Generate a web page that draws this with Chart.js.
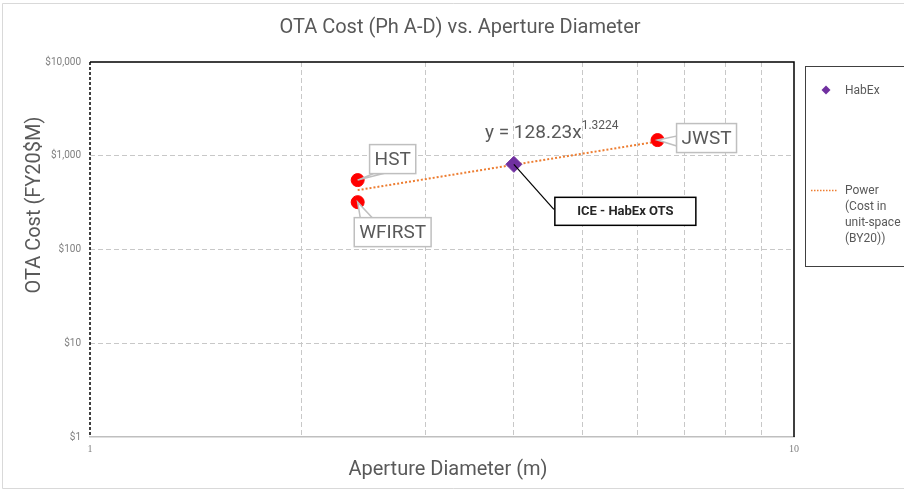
<!DOCTYPE html>
<html>
<head>
<meta charset="utf-8">
<script src="https://cdn.jsdelivr.net/npm/chart.js@4/dist/chart.umd.min.js"></script>
<style>
    html, body { margin: 0; padding: 0; background: #fff; }
</style>
</head>
<body>
<canvas id="costChart" width="904" height="491"></canvas>
<script>
// chart data
var missions = ['HST', 'WFIRST', 'JWST'];
var missionAperture = [2.4, 2.4, 6.4];
var missionCost = [550, 320, 1470];

var habexAperture = [4.0];
var habexCost = [810];
var habexLabel = ['ICE - HabEx OTS'];

var trendAperture = [2.4, 6.4];
var trendCost = [430, 1420];
var trendEquation = 'y = 128.23x';
var trendExponent = '1.3224';

var xTickValues = [1, 2, 3, 4, 5, 6, 7, 8, 9, 10];
var xTickLabels = ['1', '', '', '', '', '', '', '', '', '10'];
var yTickValues = [1, 10, 100, 1000, 10000];
var yTickLabels = ['$1', '$10', '$100', '$1,000', '$10,000'];

var titleText = 'OTA Cost (Ph A-D) vs. Aperture Diameter';
var xTitle = 'Aperture Diameter (m)';
var yTitle = 'OTA Cost (FY20$M)';
var legendHabex = 'HabEx';
var legendPower = ['Power', '(Cost in', 'unit-space', '(BY20))'];

var FONT = 'Roboto, "Noto Sans", sans-serif';
var TEXT = '#595959';

function toPoints(xs, ys) {
    return xs.map(function (x, i) { return { x: x, y: ys[i] }; });
}

// draws a grey callout box with a small wedge pointing to the marker
function callout(c, px, py, text, dx, dy) {
    c.font = '19px ' + FONT;
    var w = c.measureText(text).width + 10;
    var h = 29;
    var cx = px + dx, cy = py + dy;
    var bx = cx - w / 2, by = cy - h / 2;
    var b1, b2;
    if (py > by + h) {            // point below the box
        b1 = [bx + 4, by + h]; b2 = [bx + 14, by + h];
    } else if (py < by) {         // point above the box
        b1 = [bx + 6, by]; b2 = [bx + 18, by];
    } else {                      // point left of box
        b1 = [bx, cy - 2]; b2 = [bx, cy + 8];
    }
    c.fillStyle = '#fff';
    c.strokeStyle = '#bfbfbf';
    c.lineWidth = 1.5;
    c.beginPath();
    c.moveTo(px, py);
    c.lineTo(b1[0], b1[1]);
    c.lineTo(b2[0], b2[1]);
    c.closePath();
    c.fill();
    c.stroke();
    c.fillRect(bx, by, w, h);
    c.strokeRect(bx, by, w, h);
    c.fillStyle = TEXT;
    c.textAlign = 'center';
    c.textBaseline = 'middle';
    c.fillText(text, cx, cy + 1);
}

var overlay = {
    id: 'overlay',
    beforeDraw: function (chart) {
        var c = chart.ctx;
        c.save();
        c.fillStyle = '#fff';
        c.fillRect(0, 0, chart.width, chart.height);
        // outer chart frame
        c.strokeStyle = '#d9d9d9';
        c.lineWidth = 1;
        c.beginPath();
        c.moveTo(chart.width, 3.5);
        c.lineTo(2.5, 3.5);
        c.lineTo(2.5, 488.5);
        c.lineTo(chart.width, 488.5);
        c.stroke();
        // title + axis titles
        c.fillStyle = TEXT;
        c.textAlign = 'center';
        c.textBaseline = 'middle';
        c.font = '20px ' + FONT;
        c.fillText(titleText, 460, 28);
        c.fillText(xTitle, 448, 470);
        c.translate(35, 205);
        c.rotate(-Math.PI / 2);
        c.fillText(yTitle, 0, 0);
        c.restore();
    },
    beforeDatasetsDraw: function (chart) {
        var c = chart.ctx, a = chart.chartArea;
        c.save();
        c.strokeStyle = '#000';
        c.lineWidth = 1.5;
        c.beginPath();
        c.moveTo(a.left, a.top);
        c.lineTo(a.right, a.top);
        c.lineTo(a.right, a.bottom);
        c.stroke();
        c.setLineDash([3, 2]);
        c.beginPath();
        c.moveTo(a.left, a.top);
        c.lineTo(a.left, a.bottom);
        c.stroke();
        c.restore();
    },
    afterDatasetsDraw: function (chart) {
        var c = chart.ctx;
        c.save();
        var red = chart.getDatasetMeta(1).data;
        callout(c, red[0].x, red[0].y, missions[0], 35, -21);
        callout(c, red[1].x, red[1].y, missions[1], 35, 30);
        callout(c, red[2].x, red[2].y, missions[2], 49, -2);
        // HabEx label with black leader
        var hx = chart.getDatasetMeta(0).data[0];
        c.strokeStyle = '#000';
        c.lineWidth = 1.2;
        c.beginPath();
        c.moveTo(hx.x, hx.y);
        c.lineTo(hx.x + 40, hx.y + 45);
        c.stroke();
        c.fillStyle = '#fff';
        c.fillRect(hx.x + 41, hx.y + 33, 141, 28);
        c.lineWidth = 1.5;
        c.strokeRect(hx.x + 41, hx.y + 33, 141, 28);
        c.fillStyle = '#262626';
        c.font = 'bold 13px ' + FONT;
        c.textAlign = 'center';
        c.textBaseline = 'middle';
        c.fillText(habexLabel[0], hx.x + 111.5, hx.y + 47.5);
        // trendline equation
        c.fillStyle = TEXT;
        c.textAlign = 'left';
        c.textBaseline = 'alphabetic';
        c.font = '19px ' + FONT;
        c.fillText(trendEquation, 485, 138);
        var ew = c.measureText(trendEquation).width;
        c.font = '12px ' + FONT;
        c.fillText(trendExponent, 485 + ew, 129);
        // legend
        c.strokeStyle = '#404040';
        c.lineWidth = 1;
        c.strokeRect(805.5, 66.5, 100, 200);
        c.fillStyle = '#7030a0';
        c.beginPath();
        c.moveTo(826, 85.5); c.lineTo(830.5, 90); c.lineTo(826, 94.5); c.lineTo(821.5, 90);
        c.closePath();
        c.fill();
        c.fillStyle = TEXT;
        c.font = '12px ' + FONT;
        c.textBaseline = 'middle';
        c.fillText(legendHabex, 845, 91);
        c.strokeStyle = '#ed7d31';
        c.lineWidth = 1.5;
        c.setLineDash([1.5, 1.5]);
        c.beginPath();
        c.moveTo(811, 190.5);
        c.lineTo(837, 190.5);
        c.stroke();
        c.setLineDash([]);
        legendPower.forEach(function (t, i) {
            c.fillText(t, 845, 191 + i * 16);
        });
        c.restore();
    }
};

var ctx = document.getElementById('costChart').getContext('2d');

var costChart = new Chart(ctx, {
    type: 'scatter',
    data: {
        datasets: [{
            label: 'HabEx',
            data: toPoints(habexAperture, habexCost),
            pointStyle: 'rectRot',
            pointRadius: 8,
            backgroundColor: '#7030a0',
            borderColor: '#7030a0',
            order: 1
        }, {
            label: 'Cost in unit-space (BY20)',
            data: toPoints(missionAperture, missionCost),
            pointStyle: 'circle',
            pointRadius: 6.5,
            backgroundColor: '#ff0000',
            borderColor: '#ff0000',
            order: 2
        }, {
            label: 'Power (Cost in unit-space (BY20))',
            data: toPoints(trendAperture, trendCost),
            showLine: true,
            pointRadius: 0,
            borderColor: '#ed7d31',
            borderWidth: 2,
            borderDash: [2, 2],
            order: 3
        }]
    },
    options: {
        responsive: false,
        animation: false,
        layout: { padding: { top: 62, right: 110, left: 0, bottom: 0 } },
        plugins: {
            legend: { display: false },
            tooltip: { enabled: false }
        },
        scales: {
            x: {
                type: 'logarithmic',
                min: 1,
                max: 10,
                afterFit: function (s) { s.height = 54; },
                afterBuildTicks: function (s) {
                    s.ticks = xTickValues.map(function (v) { return { value: v }; });
                },
                ticks: {
                    autoSkip: false,
                    maxRotation: 0,
                    padding: 6,
                    color: '#7f7f7f',
                    font: { family: '"Liberation Serif", serif', size: 10 },
                    callback: function (v) { return xTickLabels[xTickValues.indexOf(v)]; }
                },
                grid: {
                    drawTicks: false,
                    color: function (c) {
                        return (c.tick && (c.tick.value === 1 || c.tick.value === 10)) ? 'rgba(0,0,0,0)' : '#c8c8c8';
                    },
                    lineWidth: 1
                },
                border: { display: true, color: '#bfbfbf', width: 1.5, dash: [5, 3] }
            },
            y: {
                type: 'logarithmic',
                min: 1,
                max: 10000,
                afterFit: function (s) { s.width = 90; },
                afterBuildTicks: function (s) {
                    s.ticks = yTickValues.map(function (v) { return { value: v }; });
                },
                ticks: {
                    autoSkip: false,
                    padding: 9,
                    color: '#7f7f7f',
                    font: { family: FONT, size: 10 },
                    callback: function (v) { return yTickLabels[yTickValues.indexOf(v)]; }
                },
                grid: {
                    drawTicks: false,
                    color: function (c) {
                        return (c.tick && (c.tick.value === 1 || c.tick.value === 10000)) ? 'rgba(0,0,0,0)' : '#c8c8c8';
                    },
                    lineWidth: 1
                },
                border: { display: false, dash: [5, 3] }
            }
        }
    },
    plugins: [overlay]
});
</script>
</body>
</html>
